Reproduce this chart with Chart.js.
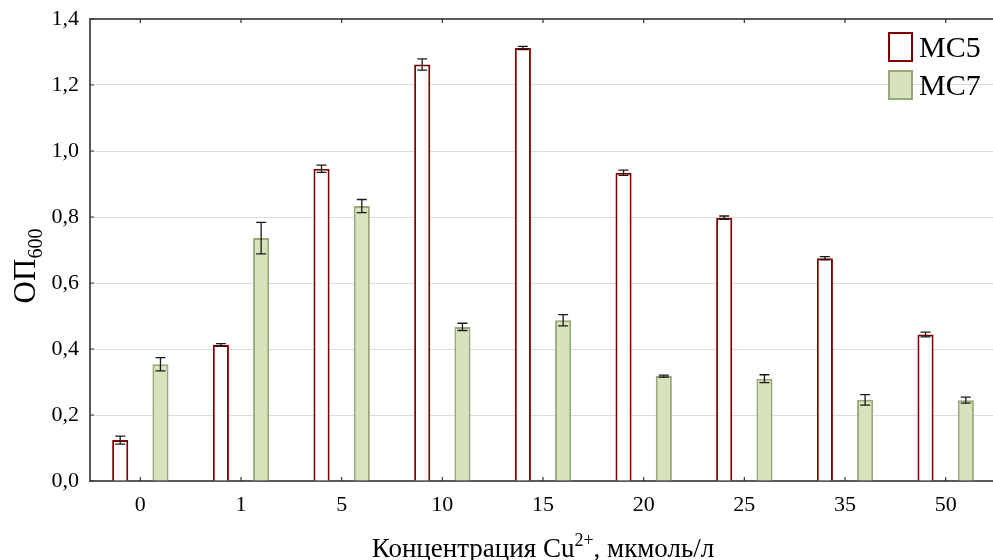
<!DOCTYPE html>
<html>
<head>
<meta charset="utf-8">
<script src="https://cdn.jsdelivr.net/npm/chart.js@4.4.0/dist/chart.umd.min.js"></script>
<style>
  html, body { margin: 0; padding: 0; background: #fff; overflow: hidden; }
  #wrap { width: 996px; height: 560px; }
</style>
</head>
<body>
<div id="wrap"><canvas id="odChart" width="996" height="560"></canvas></div>
<script>
// концентрация Cu2+, мкмоль/л
const categories = ['0', '1', '5', '10', '15', '20', '25', '35', '50'];
// ОП600, средние значения
const mc5 = [0.124, 0.412, 0.946, 1.262, 1.312, 0.934, 0.798, 0.675, 0.444];
const mc7 = [0.354, 0.736, 0.833, 0.467, 0.487, 0.318, 0.310, 0.246, 0.245];
// стандартные отклонения
const mc5Err = [0.012, 0.004, 0.011, 0.017, 0.005, 0.008, 0.005, 0.005, 0.007];
const mc7Err = [0.020, 0.048, 0.020, 0.011, 0.017, 0.003, 0.012, 0.016, 0.009];
const yTicks = [0, 0.2, 0.4, 0.6, 0.8, 1.0, 1.2, 1.4];

const SERIF = "'Liberation Serif', 'Times New Roman', serif";
const AXIS_COLOR = '#5a5a5a';

// усы погрешностей, рамка, внутренние засечки, легенда и подписи осей
const extrasPlugin = {
    id: 'extras',
    afterDatasetsDraw(chart) {
        const ctx = chart.ctx;
        const y = chart.scales.y;
        const errs = [mc5Err, mc7Err];
        ctx.save();
        ctx.strokeStyle = '#1a1a1a';
        ctx.lineWidth = 1.3;
        chart.data.datasets.forEach((ds, i) => {
            const meta = chart.getDatasetMeta(i);
            meta.data.forEach((bar, j) => {
                const v = ds.data[j];
                const e = errs[i][j];
                const yTop = y.getPixelForValue(v + e);
                const yBot = y.getPixelForValue(v - e);
                const x = bar.x;
                ctx.beginPath();
                ctx.moveTo(x, yTop); ctx.lineTo(x, yBot);
                ctx.moveTo(x - 5, yTop); ctx.lineTo(x + 5, yTop);
                ctx.moveTo(x - 5, yBot); ctx.lineTo(x + 5, yBot);
                ctx.stroke();
            });
        });
        ctx.restore();
    },
    afterDraw(chart) {
        const ctx = chart.ctx;
        const area = chart.chartArea;
        const x = chart.scales.x;
        const y = chart.scales.y;
        ctx.save();

        // верхняя рамка
        ctx.strokeStyle = AXIS_COLOR;
        ctx.lineWidth = 2;
        ctx.beginPath();
        ctx.moveTo(area.left - 1, area.top);
        ctx.lineTo(area.right, area.top);
        ctx.stroke();

        // засечки внутрь
        ctx.strokeStyle = '#333';
        ctx.lineWidth = 1.2;
        ctx.beginPath();
        categories.forEach((c, i) => {
            const px = x.getPixelForValue(i);
            ctx.moveTo(px, area.bottom); ctx.lineTo(px, area.bottom - 4);
            ctx.moveTo(px, area.top); ctx.lineTo(px, area.top + 4);
        });
        yTicks.forEach(t => {
            const py = y.getPixelForValue(t);
            ctx.moveTo(area.left, py); ctx.lineTo(area.left + 4, py);
        });
        ctx.stroke();

        // легенда
        const boxX = 888, boxW = 25, boxH = 30;
        const rows = [32, 70];
        chart.data.datasets.forEach((ds, i) => {
            ctx.fillStyle = ds.backgroundColor;
            ctx.fillRect(boxX, rows[i], boxW, boxH);
            ctx.strokeStyle = ds.borderColor;
            ctx.lineWidth = 2;
            ctx.strokeRect(boxX + 1, rows[i] + 1, boxW - 2, boxH - 2);
            ctx.fillStyle = '#000';
            ctx.font = '30px ' + SERIF;
            ctx.textBaseline = 'alphabetic';
            ctx.textAlign = 'left';
            ctx.fillText(ds.label, 919, rows[i] + 25);
        });

        // подпись оси X с верхним индексом
        ctx.fillStyle = '#000';
        const parts = [
            { t: 'Концентрация Cu', size: 27, dy: 0 },
            { t: '2+', size: 18, dy: -11 },
            { t: ', мкмоль/л', size: 27, dy: 0 }
        ];
        let total = 0;
        parts.forEach(p => { ctx.font = p.size + 'px ' + SERIF; total += ctx.measureText(p.t).width; });
        let cx = (area.left + area.right) / 2 - total / 2;
        parts.forEach(p => {
            ctx.font = p.size + 'px ' + SERIF;
            ctx.fillText(p.t, cx, 557 + p.dy);
            cx += ctx.measureText(p.t).width;
        });

        // подпись оси Y с нижним индексом
        ctx.translate(35, 266);
        ctx.rotate(-Math.PI / 2);
        const yParts = [
            { t: 'ОП', size: 31, dy: 0 },
            { t: '600', size: 20, dy: 7 }
        ];
        total = 0;
        yParts.forEach(p => { ctx.font = p.size + 'px ' + SERIF; total += ctx.measureText(p.t).width; });
        cx = -total / 2;
        yParts.forEach(p => {
            ctx.font = p.size + 'px ' + SERIF;
            ctx.fillText(p.t, cx, p.dy);
            cx += ctx.measureText(p.t).width;
        });
        ctx.restore();
    }
};

const chart = new Chart(document.getElementById('odChart'), {
    type: 'bar',
    data: {
        labels: categories,
        datasets: [
            {
                label: 'MC5',
                data: mc5,
                backgroundColor: '#ffffff',
                borderColor: '#800000',
                borderWidth: 2,
                borderSkipped: 'bottom',
                categoryPercentage: 0.8,
                barPercentage: 0.4
            },
            {
                label: 'MC7',
                data: mc7,
                backgroundColor: '#d7e3bc',
                borderColor: '#98a878',
                borderWidth: 2,
                borderSkipped: 'bottom',
                categoryPercentage: 0.8,
                barPercentage: 0.4
            }
        ]
    },
    options: {
        responsive: false,
        animation: false,
        devicePixelRatio: 1,
        layout: { padding: { top: 19, left: 0, right: 0, bottom: 0 } },
        plugins: {
            legend: { display: false },
            tooltip: { enabled: false }
        },
        scales: {
            x: {
                grid: { display: false, drawTicks: false },
                border: { display: true, color: AXIS_COLOR, width: 2 },
                ticks: {
                    color: '#000',
                    font: { family: SERIF, size: 22 },
                    padding: 11,
                    autoSkip: false,
                    maxRotation: 0
                },
                afterFit(scale) { scale.height = 79; }
            },
            y: {
                min: 0,
                max: 1.4,
                grid: { color: '#dcdcdc', lineWidth: 1, drawTicks: false },
                border: { display: true, color: AXIS_COLOR, width: 2 },
                ticks: {
                    stepSize: 0.2,
                    color: '#000',
                    font: { family: SERIF, size: 22 },
                    padding: 11,
                    callback: v => v.toFixed(1).replace('.', ',')
                },
                afterFit(scale) {
                    scale.width = 90;
                    scale.paddingTop = 0;
                    scale.paddingBottom = 0;
                }
            }
        }
    },
    plugins: [extrasPlugin]
});
</script>
</body>
</html>
